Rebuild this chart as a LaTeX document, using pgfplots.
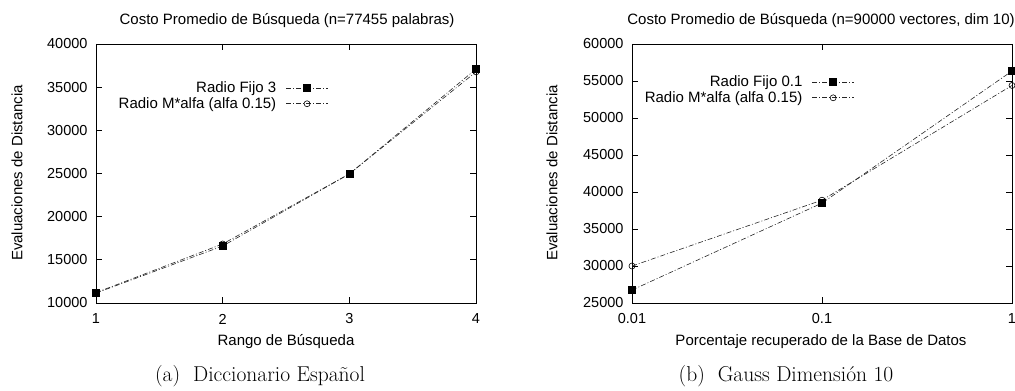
\documentclass[border=0pt]{standalone}
\usepackage{fontspec}
\usepackage{pgfplots}
\pgfplotsset{compat=1.18}
\newfontfamily\sans{Liberation Sans}
\newcommand\gfont{\fontsize{15bp}{18bp}\selectfont\sans}
\newcommand\tfont{\fontsize{14.5bp}{17bp}\selectfont\sans}
\pgfplotsset{
  gstyle/.style={
    scale only axis, width=380bp, height=259bp,
    axis line style={line width=0.8bp},
    tick style={line width=0.8bp, black},
    major tick length=6bp,
    tick align=inside,
    ticklabel style={font=\tfont},
    xticklabel style={anchor=center, yshift=0bp},
    every x tick label/.append style={yshift=-16bp, anchor=center},
    yticklabel style={anchor=east, xshift=-5bp},
    /pgf/number format/assume math mode=true,
    /pgf/number format/1000 sep={},
    scaled y ticks=false,
    legend plot pos=right,
    legend cell align=right,
    legend style={draw=none, fill=none, font=\gfont, inner sep=0pt, row sep=0.5bp,
      nodes={inner sep=1.5bp}},
    legend image code/.code={\path (0bp,0bp) (50bp,0bp); \draw[mark repeat=2,mark phase=2] plot coordinates {(8bp,0bp) (29bp,0bp) (50bp,0bp)};},
  },
  gline/.style={black!85, line width=0.6bp, dash pattern=on 5bp off 2bp on 1bp off 2bp},
  fijo/.style={gline, mark=square*, mark size=3.5bp, mark options={solid, fill=black, draw=black}},
  alfa/.style={gline, mark=o, mark size=3bp, mark options={solid, draw=black, line width=0.6bp}},
}
\begin{document}
\begin{tikzpicture}[x=1bp,y=1bp]
\useasboundingbox (0,0) rectangle (1015,390);
% ---- left
\begin{axis}[gstyle, at={(96bp,87bp)}, anchor=south west,
  xmin=1, xmax=4, ymin=10000, ymax=40000,
  xtick={1,2,3,4}, ytick={10000,15000,20000,25000,30000,35000,40000},
  legend style={at={(rel axis cs:0.612,0.861)}, anchor=north east}]
\addplot[fijo] coordinates {(1,11150) (2,16600) (3,24950) (4,37100)};
\addlegendentry{Radio Fijo 3}
\addplot[alfa] coordinates {(1,11200) (2,16840) (3,24950) (4,36770)};
\addlegendentry{Radio M*alfa (alfa 0.15)}
\end{axis}
% ---- right
\begin{axis}[gstyle, at={(632bp,87bp)}, anchor=south west,
  xmode=log, xmin=0.01, xmax=1, ymin=25000, ymax=60000,
  xtick={0.01,0.1,1}, xticklabels={0.01,0.1,1}, xminorticks=false,
  ytick={25000,30000,35000,40000,45000,50000,55000,60000},
  legend style={at={(rel axis cs:0.586,0.884)}, anchor=north east}]
\addplot[fijo] coordinates {(0.01,26750) (0.1,38500) (1,56350)};
\addlegendentry{Radio Fijo 0.1}
\addplot[alfa] coordinates {(0.01,30000) (0.1,38900) (1,54400)};
\addlegendentry{Radio M*alfa (alfa 0.15)}
\end{axis}
% ---- texts
\node[font=\gfont] at (287,369) {Costo Promedio de Búsqueda (n=77455 palabras)};
\node[font=\gfont] at (286,48) {Rango de Búsqueda};
\node[font=\gfont, rotate=90] at (17,217) {Evaluaciones de Distancia};
\node[font=\gfont] at (821,369) {Costo Promedio de Búsqueda (n=90000 vectores, dim 10)};
\node[font=\gfont] at (821,48) {Porcentaje recuperado de la Base de Datos};
\node[font=\gfont, rotate=90] at (552,217) {Evaluaciones de Distancia};
\node[font=\fontsize{21.5bp}{24bp}\selectfont] at (260,14) {(a)\ \ Diccionario Español};
\node[font=\fontsize{21.5bp}{24bp}\selectfont] at (786,14) {(b)\ \ Gauss Dimensión 10};
\end{tikzpicture}
\end{document}
